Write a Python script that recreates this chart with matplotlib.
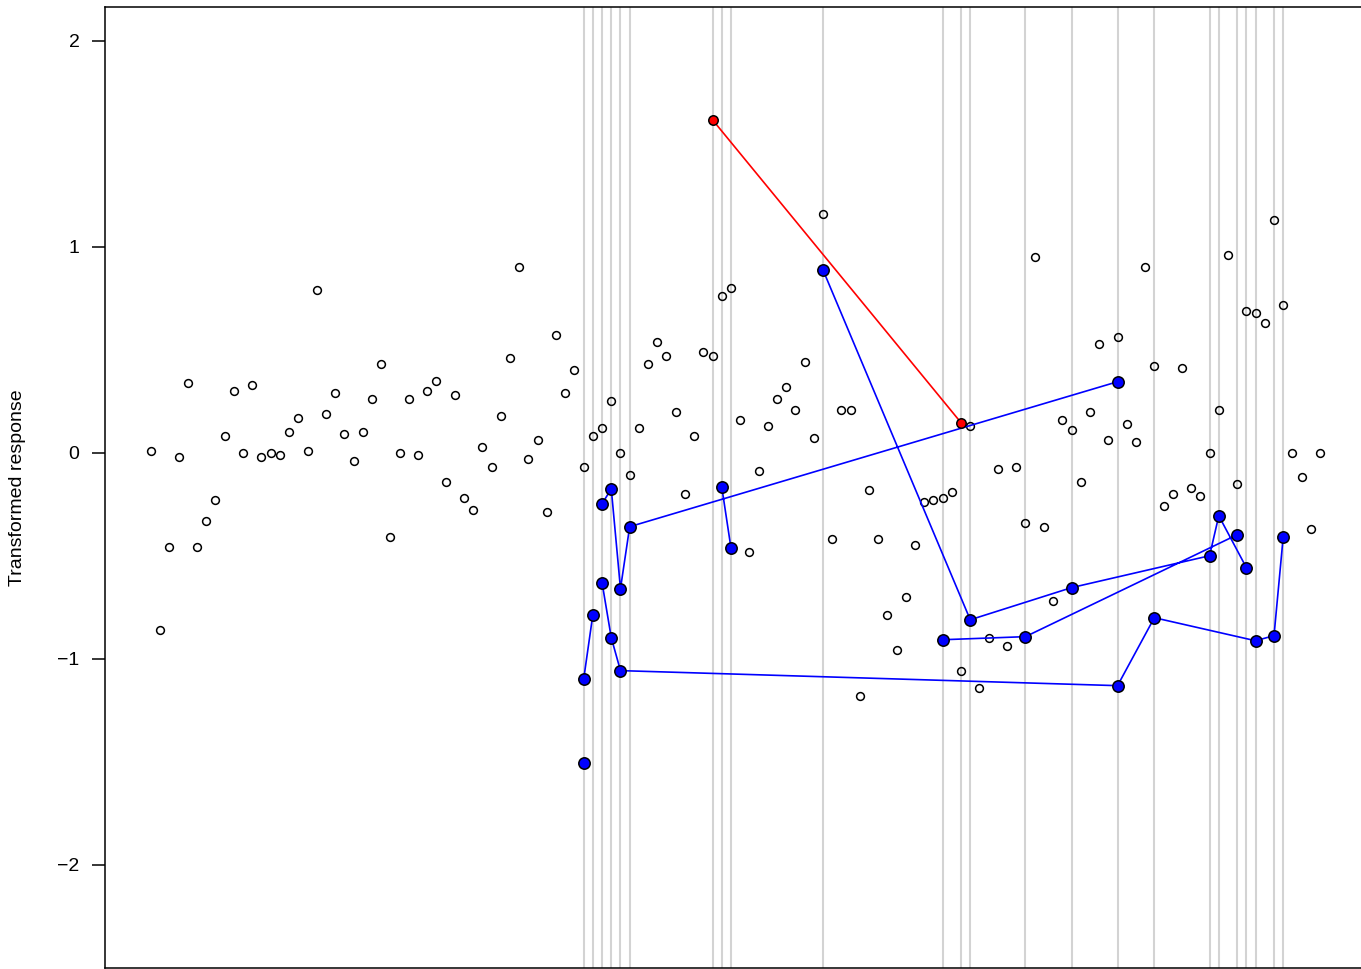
import numpy as np
import matplotlib
matplotlib.use("Agg")
import matplotlib.pyplot as plt

plt.rcParams['font.family'] = ['Liberation Sans', 'DejaVu Sans']

# response values at positions 1..128 (open circles)
resp = [0.01, -0.86, -0.46, -0.02, 0.34, -0.46, -0.33, -0.23, 0.08, 0.30,
        0.00, 0.33, -0.02, 0.00, -0.01, 0.10, 0.17, 0.01, 0.79, 0.19,
        0.29, 0.09, -0.04, 0.10, 0.26, 0.43, -0.41, 0.00, 0.26, -0.01,
        0.30, 0.35, -0.14, 0.28, -0.22, -0.28, 0.03, -0.07, 0.18, 0.46,
        0.90, -0.03, 0.06, -0.29, 0.57, 0.29, 0.40, -0.07, 0.08, 0.12,
        0.25, 0.00, -0.11, 0.12, 0.43, 0.54, 0.47, 0.20, -0.20, 0.08,
        0.49, 0.47, 0.76, 0.80, 0.16, -0.48, -0.09, 0.13, 0.26, 0.32,
        0.21, 0.44, 0.07, 1.16, -0.42, 0.21, 0.21, -1.18, -0.18, -0.42,
        -0.79, -0.96, -0.70, -0.45, -0.24, -0.23, -0.22, -0.19, -1.06, 0.13,
        -1.14, -0.90, -0.08, -0.94, -0.07, -0.34, 0.95, -0.36, -0.72, 0.16,
        0.11, -0.14, 0.20, 0.53, 0.06, 0.56, 0.14, 0.05, 0.90, 0.42,
        -0.26, -0.20, 0.41, -0.17, -0.21, 0.00, 0.21, 0.96, -0.15, 0.69,
        0.68, 0.63, 1.13, 0.72, 0.00, -0.12, -0.37, 0.00]
pos = np.arange(1, len(resp) + 1)

# marked positions (grey verticals)
marked = [48, 49, 50, 51, 52, 53, 62, 63, 64, 74, 87, 89, 90, 96, 101,
          106, 110, 116, 117, 119, 120, 121, 123, 124]

# blue paths, NaN breaks the line between separate paths
blue_x = [48, np.nan,
          48, 49, np.nan,
          50, 51, 52, 106, 110, 121, 123, 124, np.nan,
          50, 51, 52, 53, 106, np.nan,
          63, 64, np.nan,
          74, 90, 101, 116, 117, 120, np.nan,
          87, 96, 119]
blue_y = [-1.505, np.nan,
          -1.10, -0.786, np.nan,
          -0.631, -0.898, -1.058, -1.131, -0.801, -0.913, -0.888, -0.408, np.nan,
          -0.248, -0.175, -0.660, -0.359, 0.345, np.nan,
          -0.165, -0.461, np.nan,
          0.888, -0.811, -0.655, -0.500, -0.306, -0.558, np.nan,
          -0.908, -0.893, -0.398]

# red path
red_x = [62, 89]
red_y = [1.617, 0.146]

fig = plt.figure(figsize=(13.61, 9.69), dpi=100)
ax = fig.add_axes([105 / 1361, 0.0015, 1 - 105 / 1361, 0.9913])

for m in marked:
    ax.axvline(m, color='#d3d3d3', lw=1.5, zorder=1)

ax.plot(pos, resp, 'o', ms=5.6, mfc='none', mec='black', mew=1.1, zorder=3)

ax.plot(blue_x, blue_y, '-', color='blue', lw=1.2, zorder=4)
ax.plot(blue_x, blue_y, 'o', ms=8.2, mfc='blue', mec='black', mew=1.1, zorder=5)
ax.plot(red_x, red_y, '-', color='red', lw=1.2, zorder=4)
ax.plot(red_x, red_y, 'o', ms=6.8, mfc='red', mec='black', mew=1.1, zorder=5)

ax.set_xlim(-4.0, 132.45)
ax.set_ylim(-2.50, 2.165)
ax.set_yticks([-2, -1, 0, 1, 2])
ax.set_yticklabels(['\u22122', '\u22121', '0', '1', '2'])
ax.set_xticks([])
ax.tick_params(axis='y', length=9.4, width=1.1, pad=9, labelsize=14)
for s in ['left', 'top', 'bottom']:
    ax.spines[s].set_linewidth(1.1)
ax.spines['right'].set_visible(False)
ax.set_ylabel('Transformed response', fontsize=14)
ax.yaxis.set_label_coords(-0.063, 0.5)

fig.savefig('out.png', dpi=100)
